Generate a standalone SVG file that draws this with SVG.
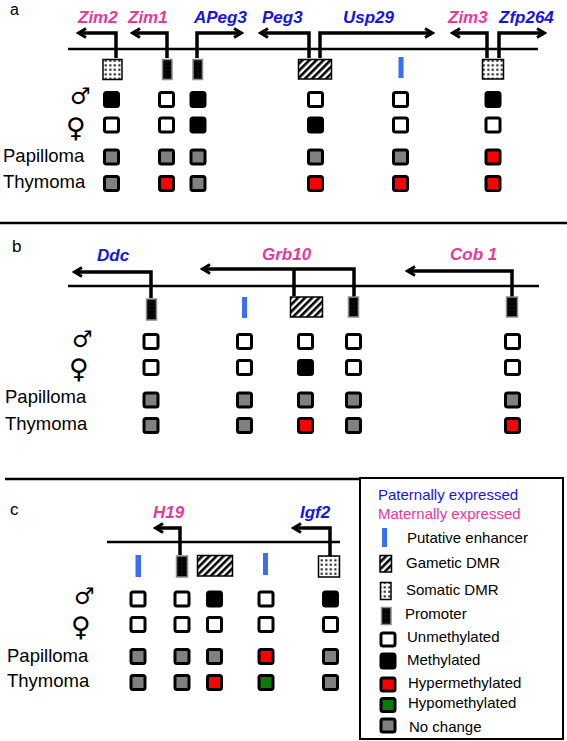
<svg xmlns="http://www.w3.org/2000/svg" width="567" height="741" viewBox="0 0 567 741">
<style>
text{font-family:"Liberation Sans",Arial,sans-serif;fill:#000}
.gene{font-size:17px;font-style:italic;font-weight:bold}
.pat{fill:#1414e6}
.mat{fill:#e6399b}
.lab{font-size:18.5px}
.panel{font-size:17px}
.pa{font-size:16px}
.sym{font-family:"DejaVu Sans",sans-serif}
.male{font-size:23px}
.fem{font-size:27px}
.leg{font-size:15px}
.chr{stroke:#000;stroke-width:2.5;fill:none}
.sep{stroke:#000;stroke-width:2.5;fill:none}
.tss{stroke:#000;stroke-width:3.5;fill:none;stroke-linejoin:miter;marker-end:url(#ah)}
.stem{stroke:#000;stroke-width:3.5;fill:none}
.sq{stroke:#000;stroke-width:3;rx:2;ry:2}
.w{fill:#fff}.b{fill:#000}.g{fill:#808080}.r{fill:#ff0000}.gr{fill:#0b7a0b}
.enh{fill:#3a6ff5}
.gdmr{fill:url(#stripes);stroke:#000;stroke-width:1.5}
.sdmr{fill:url(#dots);stroke:#000;stroke-width:1.5}
.prom{fill:url(#pdots);stroke:#8c8c8c;stroke-width:1.5}
</style>
<defs>
<marker id="ah" markerUnits="userSpaceOnUse" viewBox="0 0 12 12" refX="9" refY="6" markerWidth="12" markerHeight="12" orient="auto">
<path d="M2,1.5 L9.5,6 L2,10.5" fill="none" stroke="#000" stroke-width="3"/>
</marker>
<pattern id="stripes" patternUnits="userSpaceOnUse" width="5" height="5" patternTransform="rotate(45)">
<rect width="5" height="5" fill="#fff"/><rect width="2.6" height="5" fill="#000"/>
</pattern>
<pattern id="dots" patternUnits="userSpaceOnUse" width="4.5" height="4.5">
<rect width="4.5" height="4.5" fill="#fff"/><rect x="1.3" y="1.3" width="2" height="2" fill="#000"/>
</pattern>
<pattern id="pdots" patternUnits="userSpaceOnUse" width="4" height="4">
<rect width="4" height="4" fill="#000"/><rect x="1.5" y="1.5" width="0.8" height="0.8" fill="#555"/>
</pattern>
</defs>
<rect width="567" height="741" fill="#fff"/>

<!-- separators -->
<g id="separators">
<line class="sep" x1="0" y1="223" x2="567" y2="223"/>
<line class="sep" x1="5" y1="479" x2="360" y2="479"/>
</g>

<!-- connectors -->
<g id="connectors">
<line class="chr" x1="68" y1="49" x2="538" y2="49"/>
<path class="tss" d="M116,58 V33 H79"/>
<path class="tss" d="M167,58 V33 H133"/>
<path class="tss" d="M197,58 V33 H241"/>
<path class="tss" d="M309,58 V33 H261"/>
<path class="tss" d="M320,58 V33 H432"/>
<path class="tss" d="M487,58 V33 H453"/>
<path class="tss" d="M499,58 V33 H544"/>

<line class="chr" x1="68" y1="286" x2="539" y2="286"/>
<path class="tss" d="M151,298 V272 H75"/>
<path class="tss" d="M354,297 V269 H203"/>
<path class="stem" d="M294,269 V296"/>
<path class="tss" d="M512,297 V271 H408"/>

<line class="chr" x1="107" y1="542" x2="340" y2="542"/>
<path class="tss" d="M180,555 V528 H156"/>
<path class="tss" d="M330,556 V528 H294"/>
</g>

<!-- panel a -->
<g id="panel-a">
<text class="pa" x="10" y="15">a</text>
<text class="sym male" x="70" y="104">♂</text>
<text class="sym fem" x="66" y="137">♀</text>
<text class="lab" x="3" y="162">Papilloma</text>
<text class="lab" x="3" y="188">Thymoma</text>
</g>
<g id="zim2">
<text class="gene mat" x="78" y="23">Zim2</text>
<rect class="sdmr" x="103" y="59.5" width="19" height="20"/>
<rect class="sq b" x="104.5" y="92.5" width="14" height="14"/>
<rect class="sq w" x="104.5" y="118" width="14" height="14"/>
<rect class="sq g" x="104.5" y="150" width="14" height="14"/>
<rect class="sq g" x="104.5" y="176.5" width="14" height="14"/>
</g>
<g id="zim1">
<text class="gene mat" x="128" y="23">Zim1</text>
<rect class="prom" x="162.5" y="59.5" width="9.5" height="20"/>
<rect class="sq w" x="159.5" y="92.5" width="14" height="14"/>
<rect class="sq w" x="159.5" y="118" width="14" height="14"/>
<rect class="sq g" x="159.5" y="150" width="14" height="14"/>
<rect class="sq r" x="159.5" y="176.5" width="14" height="14"/>
</g>
<g id="apeg3">
<text class="gene pat" x="194" y="23">APeg3</text>
<rect class="prom" x="193" y="59.5" width="9.5" height="20"/>
<rect class="sq b" x="191" y="92.5" width="14" height="14"/>
<rect class="sq b" x="191" y="118" width="14" height="14"/>
<rect class="sq g" x="191" y="150" width="14" height="14"/>
<rect class="sq g" x="191" y="176.5" width="14" height="14"/>
</g>
<g id="peg3-usp29">
<text class="gene pat" x="262" y="23">Peg3</text>
<text class="gene pat" x="343" y="23">Usp29</text>
<rect class="gdmr" x="298.5" y="59.5" width="33" height="19.5"/>
<rect class="sq w" x="308.5" y="92.5" width="14" height="14"/>
<rect class="sq b" x="308.5" y="118" width="14" height="14"/>
<rect class="sq g" x="308.5" y="150" width="14" height="14"/>
<rect class="sq r" x="308.5" y="176.5" width="14" height="14"/>
</g>
<g id="enhancer-a">
<rect class="enh" x="398.5" y="57" width="5" height="21"/>
<rect class="sq w" x="393.5" y="92.5" width="14" height="14"/>
<rect class="sq w" x="393.5" y="118" width="14" height="14"/>
<rect class="sq g" x="393.5" y="150" width="14" height="14"/>
<rect class="sq r" x="393.5" y="176.5" width="14" height="14"/>
</g>
<g id="zim3-zfp264">
<text class="gene mat" x="448" y="23">Zim3</text>
<text class="gene pat" x="499" y="23">Zfp264</text>
<rect class="sdmr" x="482.5" y="59.5" width="21" height="19.5"/>
<rect class="sq b" x="486" y="92.5" width="14" height="14"/>
<rect class="sq w" x="486" y="118" width="14" height="14"/>
<rect class="sq r" x="486" y="150" width="14" height="14"/>
<rect class="sq r" x="486" y="176.5" width="14" height="14"/>
</g>

<!-- panel b -->
<g id="panel-b">
<text class="panel" x="12" y="252">b</text>
<text class="sym male" x="72" y="347">♂</text>
<text class="sym fem" x="69" y="378">♀</text>
<text class="lab" x="5" y="403">Papilloma</text>
<text class="lab" x="5" y="430">Thymoma</text>
</g>
<g id="ddc">
<text class="gene pat" x="97" y="261">Ddc</text>
<rect class="prom" x="146.5" y="299" width="10" height="21"/>
<rect class="sq w" x="144" y="334.5" width="14" height="14"/>
<rect class="sq w" x="144" y="360.5" width="14" height="14"/>
<rect class="sq g" x="144" y="393" width="14" height="14"/>
<rect class="sq g" x="144" y="418.5" width="14" height="14"/>
</g>
<g id="enhancer-b">
<rect class="enh" x="242" y="297" width="5" height="21"/>
<rect class="sq w" x="237.5" y="334.5" width="14" height="14"/>
<rect class="sq w" x="237.5" y="360.5" width="14" height="14"/>
<rect class="sq g" x="237.5" y="393" width="14" height="14"/>
<rect class="sq g" x="237.5" y="418.5" width="14" height="14"/>
</g>
<g id="grb10">
<text class="gene mat" x="262" y="260">Grb10</text>
<rect class="gdmr" x="290.5" y="297" width="32" height="20"/>
<rect class="sq w" x="298.5" y="334.5" width="14" height="14"/>
<rect class="sq b" x="298.5" y="360.5" width="14" height="14"/>
<rect class="sq g" x="298.5" y="393" width="14" height="14"/>
<rect class="sq r" x="298.5" y="418.5" width="14" height="14"/>
<rect class="prom" x="348.5" y="297" width="10" height="20"/>
<rect class="sq w" x="346.5" y="334.5" width="14" height="14"/>
<rect class="sq w" x="346.5" y="360.5" width="14" height="14"/>
<rect class="sq g" x="346.5" y="393" width="14" height="14"/>
<rect class="sq g" x="346.5" y="418.5" width="14" height="14"/>
</g>
<g id="cob1">
<text class="gene mat" x="450" y="260">Cob 1</text>
<rect class="prom" x="506.5" y="297" width="11" height="20"/>
<rect class="sq w" x="505.5" y="334.5" width="14" height="14"/>
<rect class="sq w" x="505.5" y="360.5" width="14" height="14"/>
<rect class="sq g" x="505.5" y="393" width="14" height="14"/>
<rect class="sq r" x="505.5" y="418.5" width="14" height="14"/>
</g>

<!-- panel c -->
<g id="panel-c">
<text class="panel" x="10" y="515">c</text>
<text class="sym male" x="74" y="604">♂</text>
<text class="sym fem" x="71" y="636">♀</text>
<text class="lab" x="7" y="662">Papilloma</text>
<text class="lab" x="7" y="687">Thymoma</text>
</g>
<g id="enhancer-c1">
<rect class="enh" x="135.5" y="555" width="5.5" height="22"/>
<rect class="sq w" x="131" y="592" width="14" height="14"/>
<rect class="sq w" x="131" y="617.5" width="14" height="14"/>
<rect class="sq g" x="131" y="649.5" width="14" height="14"/>
<rect class="sq g" x="131" y="675.5" width="14" height="14"/>
</g>
<g id="h19">
<text class="gene mat" x="153" y="518">H19</text>
<rect class="prom" x="176.5" y="556" width="11" height="21"/>
<rect class="sq w" x="175" y="592" width="14" height="14"/>
<rect class="sq w" x="175" y="617.5" width="14" height="14"/>
<rect class="sq g" x="175" y="649.5" width="14" height="14"/>
<rect class="sq g" x="175" y="675.5" width="14" height="14"/>
</g>
<g id="h19-dmr">
<rect class="gdmr" x="197.5" y="555.5" width="35" height="20.5"/>
<rect class="sq b" x="207.5" y="592" width="14" height="14"/>
<rect class="sq w" x="207.5" y="617.5" width="14" height="14"/>
<rect class="sq g" x="207.5" y="649.5" width="14" height="14"/>
<rect class="sq r" x="207.5" y="675.5" width="14" height="14"/>
</g>
<g id="enhancer-c2">
<rect class="enh" x="263" y="553" width="5" height="22"/>
<rect class="sq w" x="259" y="592" width="14" height="14"/>
<rect class="sq w" x="259" y="617.5" width="14" height="14"/>
<rect class="sq r" x="259" y="649.5" width="14" height="14"/>
<rect class="sq gr" x="259" y="675.5" width="14" height="14"/>
</g>
<g id="igf2">
<text class="gene pat" x="300" y="518">Igf2</text>
<rect class="sdmr" x="318.5" y="556" width="21" height="21"/>
<rect class="sq b" x="323.5" y="592" width="14" height="14"/>
<rect class="sq w" x="323.5" y="617.5" width="14" height="14"/>
<rect class="sq g" x="323.5" y="649.5" width="14" height="14"/>
<rect class="sq g" x="323.5" y="675.5" width="14" height="14"/>
</g>

<!-- legend -->
<g id="legend">
<rect x="360" y="478" width="203" height="261" fill="none" stroke="#000" stroke-width="2"/>
<text class="leg pat" x="378" y="500">Paternally expressed</text>
<text class="leg mat" x="378" y="519">Maternally expressed</text>
<rect class="enh" x="382" y="528" width="5" height="19"/>
<text class="leg" x="407" y="543">Putative enhancer</text>
<rect class="gdmr" x="380" y="555.5" width="11.5" height="16.5"/>
<text class="leg" x="406" y="568">Gametic DMR</text>
<rect class="sdmr" x="380.5" y="582.5" width="10.5" height="17"/>
<text class="leg" x="406" y="595">Somatic DMR</text>
<rect class="prom" x="381.5" y="607.5" width="9.5" height="17"/>
<text class="leg" x="405" y="619">Promoter</text>
<rect class="sq w" x="381" y="633" width="14" height="13"/>
<text class="leg" x="407" y="642">Unmethylated</text>
<rect class="sq b" x="381" y="654" width="14" height="14"/>
<text class="leg" x="407" y="665">Methylated</text>
<rect class="sq r" x="381" y="678" width="14" height="13"/>
<text class="leg" x="408" y="688">Hypermethylated</text>
<rect class="sq gr" x="381" y="698.5" width="14" height="13"/>
<text class="leg" x="408" y="708">Hypomethylated</text>
<rect class="sq g" x="381" y="719" width="14" height="13"/>
<text class="leg" x="409" y="732">No change</text>
</g>
</svg>
